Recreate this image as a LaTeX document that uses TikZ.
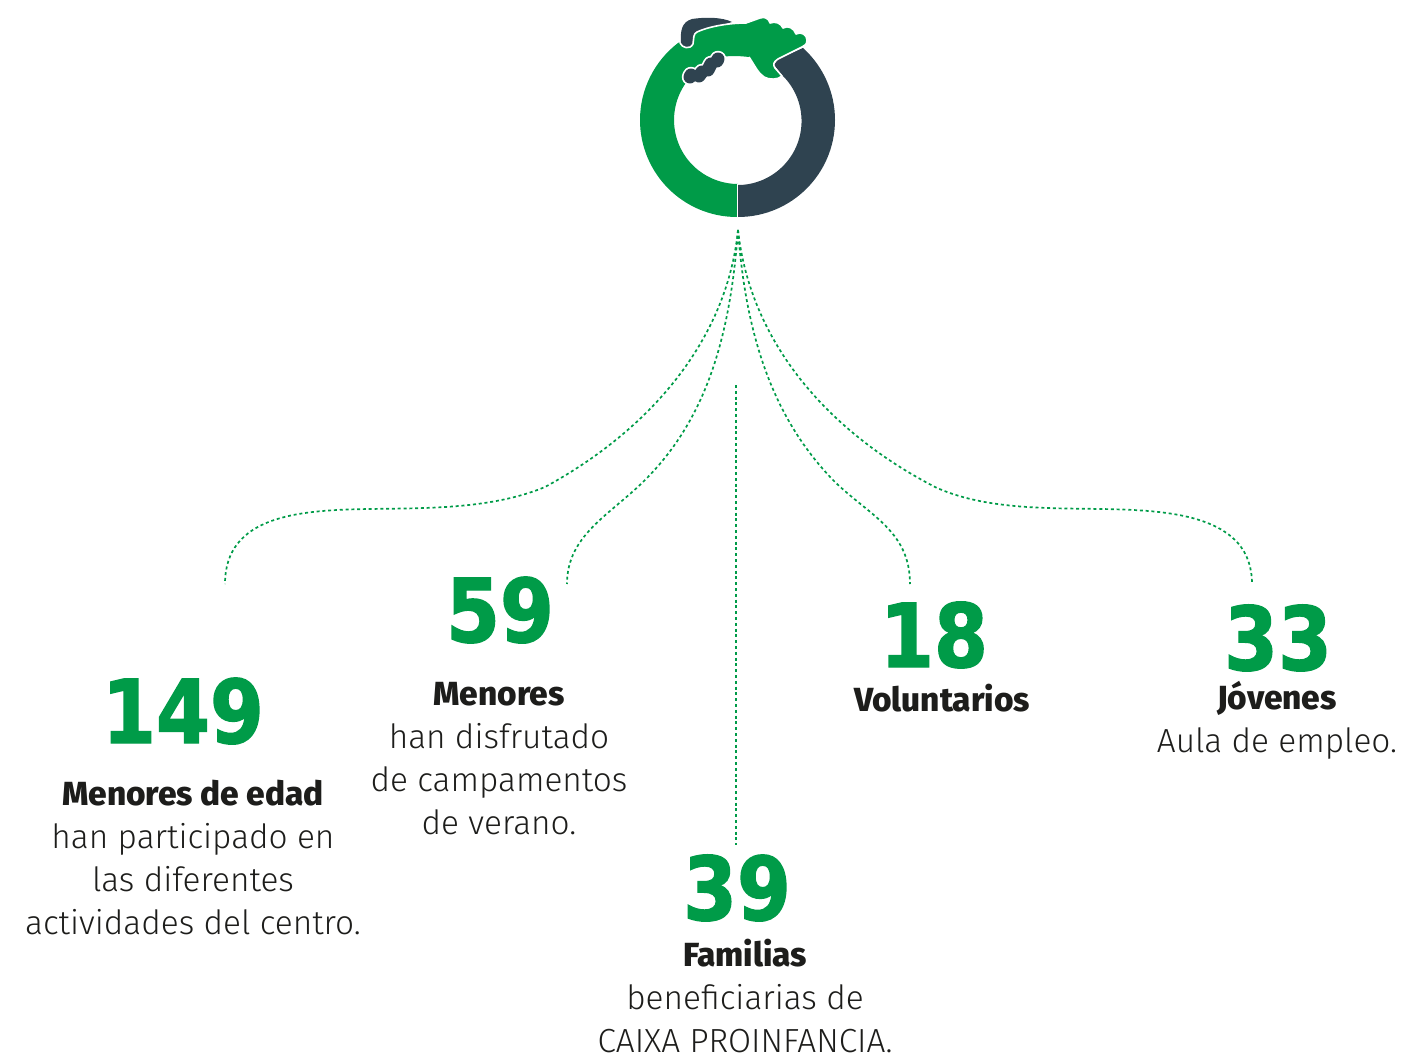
\documentclass[tikz,border=0pt]{standalone}
\usepackage{fontspec}
\IfFontExistsTF{Fira Sans Light}{\setmainfont{Fira Sans Light}[BoldFont={Fira Sans ExtraBold}]}{\setmainfont{Lato}}
\newfontfamily\numfb{DejaVu Sans}[UprightFont={* Bold},FakeStretch=0.88,FakeBold=1.6]
\definecolor{gr}{HTML}{009B48}
\definecolor{dk}{HTML}{2F4350}
\definecolor{tx}{HTML}{1D1D1B}
\tikzset{
  link/.style={gr,line width=1.7pt,dash pattern=on 3pt off 2.8pt},
  num/.style={gr,font=\numfb\fontsize{#1}{#1}\selectfont,inner sep=0,anchor=base},
  lab/.style={tx,font=\fontsize{33.4}{43}\selectfont,align=center,inner sep=0,anchor=base},
  fing/.style={line cap=round},
}
\begin{document}
\begin{tikzpicture}[x=1pt,y=-1pt]
\useasboundingbox (0,0) rectangle (1401,1055);
% ring, dark half
\fill[dk] (738,217) arc[start angle=90,end angle=-48,radius=97] -- (778,59) -- (774,65) -- (782,75)
  arc[start angle=-46,end angle=90,radius=64] -- cycle;
\fill[dk] (681,44) .. controls (680,30) and (682,22) .. (692,19)
  .. controls (705,17) and (722,17) .. (732,22) -- (700,32) -- (693,45) -- (686,50) -- cycle;
% ring, green half with hand
\def\handedge{(680,43) .. controls (682,48) and (690,50) .. (693,44)
  .. controls (694,38) and (693,34) .. (697,32)
  .. controls (710,26) and (730,23) .. (746,23)
  -- (760,18) .. controls (765,16) and (769,19) .. (770,23)
  .. controls (775,21) and (781,23) .. (783,28)
  .. controls (788,25) and (794,28) .. (796,34)
  .. controls (801,31) and (807,35) .. (807,40)
  .. controls (807,44) and (805,46) .. (802,47)
  -- (778,59) .. controls (773,62) and (773,65) .. (775,68)
  -- (782,76) .. controls (778,80) and (769,80) .. (764,77)
  .. controls (758,73) and (755,66) .. (749,57)}
\fill[gr] (737,217) arc[start angle=90,end angle=233,radius=97] -- \handedge
  .. controls (740,56) and (728,55) .. (718,58)
  -- (687.6,80.6) arc[start angle=218,end angle=90,radius=64] -- cycle;
\draw[white,line width=1.6pt,line join=round] \handedge;
\draw[white,line width=1.6pt] (737.5,184) -- (737.5,218);
% fingers of the dark hand
\foreach \a/\b/\c/\d in {690/77/691/75,699/76/702/72,708/70/711/64,717/61/718/59}
  \draw[white,line width=16.5pt,fing] (\a,\b) -- (\c,\d);
\foreach \a/\b/\c/\d in {690/77/691/75,699/76/702/72,708/70/711/64,717/61/718/59}
  \draw[dk,line width=13pt,fing] (\a,\b) -- (\c,\d);
% numbers and labels
\node[num=88] (n149) at (183,743) {149};
\node[lab] (t149) at (193,934) {\textbf{Menores de edad}\\han participado en\\las diferentes\\actividades del centro.};
\node[num=88] (n59) at (500,642) {59};
\node[lab] (t59) at (499,834) {\textbf{Menores}\\han disfrutado\\de campamentos\\de verano.};
\node[num=88] (n39) at (737,920) {39};
\node[lab] (t39) at (745,1052.5) {\textbf{Familias}\\beneficiarias de\\CAIXA PROINFANCIA.};
\node[num=88] (n18) at (934,667) {18};
\node[lab] (t18) at (942,711) {\textbf{Voluntarios}};
\node[num=88] (n33) at (1278,670) {33};
\node[lab] (t33) at (1277,752) {\textbf{Jóvenes}\\Aula de empleo.};
% connectors
\coordinate (top) at (738,230);
\coordinate (e1) at (225,584);
\coordinate (e2) at (567,584);
\coordinate (e4) at (910,584);
\coordinate (e5) at (1252,584);
\coordinate (e3a) at (736,385);
\coordinate (e3b) at (736,845);
\draw[link] (top) .. controls (727,340) and (650,430) .. (545,487)
  .. controls (490,510) and (420,508) .. (370,509)
  .. controls (300,510) and (225,515) .. (e1);
\draw[link] (top) .. controls (730,340) and (705,420) .. (645,480)
  .. controls (610,515) and (567,535) .. (e2);
\draw[link] (top) .. controls (746,340) and (775,420) .. (833,480)
  .. controls (868,515) and (910,530) .. (e4);
\draw[link] (top) .. controls (750,340) and (825,430) .. (935,487)
  .. controls (985,510) and (1050,508) .. (1100,509)
  .. controls (1170,510) and (1252,515) .. (e5);
\draw[link] (e3a) -- (e3b);
\end{tikzpicture}
\end{document}
